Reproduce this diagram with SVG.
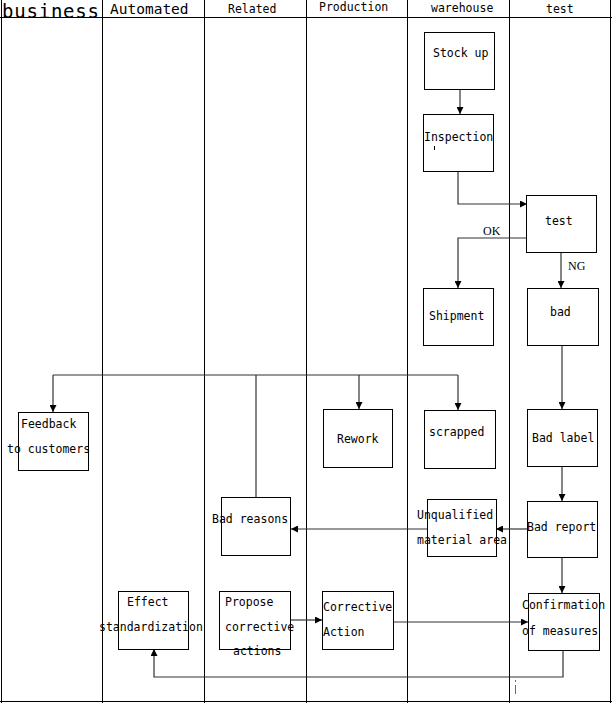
<svg xmlns="http://www.w3.org/2000/svg" width="612" height="703" viewBox="0 0 612 703">
<style>
.lane{stroke:#000;stroke-width:1;fill:none}
.box{fill:#fff;stroke:#000;stroke-width:1}
.t{font-family:"DejaVu Sans Mono","Liberation Mono",monospace;font-size:11.5px;fill:#000}
.h{font-family:"DejaVu Sans Mono","Liberation Mono",monospace;font-size:11.5px;fill:#000}
.lbl{font-family:"Liberation Serif","Times New Roman",serif;font-size:12px;fill:#000}
.c{stroke:#333;stroke-width:1.2;fill:none}
</style>
<defs>
<marker id="arr" viewBox="0 0 10 10" refX="10" refY="5" markerWidth="7" markerHeight="7" markerUnits="userSpaceOnUse" orient="auto">
<path d="M0,0 L10,5 L0,10 z" fill="#000"/>
</marker>
</defs>
<rect width="612" height="703" fill="#fff"/>
<g id="lanes">
<line class="lane" x1="1.5" y1="0" x2="1.5" y2="703"/>
<line class="lane" x1="102.5" y1="0" x2="102.5" y2="703"/>
<line class="lane" x1="204.5" y1="0" x2="204.5" y2="703"/>
<line class="lane" x1="306.5" y1="0" x2="306.5" y2="703"/>
<line class="lane" x1="407.5" y1="0" x2="407.5" y2="703"/>
<line class="lane" x1="509.5" y1="0" x2="509.5" y2="703"/>
<line class="lane" x1="610.5" y1="0" x2="610.5" y2="703"/>
<line class="lane" x1="0" y1="17.5" x2="612" y2="17.5"/>
<line class="lane" x1="0" y1="701.5" x2="612" y2="701.5"/>
<text x="2" y="17.5" font-family="'DejaVu Sans Mono','Liberation Mono',monospace" font-size="19px" textLength="97" lengthAdjust="spacing">business</text>
<text x="110" y="14" font-family="'DejaVu Sans Mono','Liberation Mono',monospace" font-size="14.5px">Automated</text>
<text class="h" x="228" y="13">Related</text>
<text class="h" x="319" y="11">Production</text>
<text class="h" x="431" y="12">warehouse</text>
<text class="h" x="546" y="13">test</text>
</g>
<g id="connectors">
<line class="c" x1="460" y1="89" x2="460" y2="114" marker-end="url(#arr)"/>
<polyline class="c" points="458,171 458,204 527,204" marker-end="url(#arr)"/>
<polyline class="c" points="526,238 458,238 458,288" marker-end="url(#arr)"/>
<text class="lbl" x="483" y="235">OK</text>
<line class="c" x1="561" y1="252" x2="561" y2="288" marker-end="url(#arr)"/>
<text class="lbl" x="568" y="270">NG</text>
<line class="c" x1="562" y1="345" x2="562" y2="409" marker-end="url(#arr)"/>
<line class="c" x1="562" y1="466" x2="562" y2="501" marker-end="url(#arr)"/>
<line class="c" x1="527" y1="529" x2="496" y2="529" marker-end="url(#arr)"/>
<line class="c" x1="427" y1="529" x2="291" y2="529" marker-end="url(#arr)"/>
<line class="c" x1="256" y1="497" x2="256" y2="375"/>
<line class="c" x1="53" y1="375" x2="458" y2="375"/>
<line class="c" x1="53" y1="375" x2="53" y2="412" marker-end="url(#arr)"/>
<line class="c" x1="359" y1="375" x2="359" y2="409" marker-end="url(#arr)"/>
<line class="c" x1="458" y1="375" x2="458" y2="410" marker-end="url(#arr)"/>
<line class="c" x1="562" y1="557" x2="562" y2="593" marker-end="url(#arr)"/>
<line class="c" x1="290" y1="620" x2="322" y2="620" marker-end="url(#arr)"/>
<line class="c" x1="393" y1="622" x2="528" y2="622" marker-end="url(#arr)"/>
<polyline class="c" points="563,650 563,677 154,677 154,649" marker-end="url(#arr)"/>
</g>
<g id="stock-up"><rect class="box" x="424.5" y="32.5" width="70" height="57"/><text class="t" x="433" y="57">Stock up</text></g>
<g id="inspection"><rect class="box" x="423.5" y="114.5" width="70" height="57"/><text class="t" x="424" y="141">Inspection</text><line x1="434.5" y1="146" x2="434.5" y2="150" stroke="#000" stroke-width="1"/></g>
<g id="test"><rect class="box" x="526.5" y="195.5" width="70" height="57"/><text class="t" x="545" y="225">test</text></g>
<g id="shipment"><rect class="box" x="423.5" y="288.5" width="70" height="57"/><text class="t" x="429" y="320">Shipment</text></g>
<g id="bad"><rect class="box" x="527.5" y="288.5" width="71" height="57"/><text class="t" x="550" y="316">bad</text></g>
<g id="feedback"><rect class="box" x="18.5" y="412.5" width="70" height="58"/><text class="t" x="21" y="428">Feedback</text><text class="t" x="7" y="453">to customers</text></g>
<g id="rework"><rect class="box" x="323.5" y="409.5" width="69" height="58"/><text class="t" x="337" y="443">Rework</text></g>
<g id="scrapped"><rect class="box" x="424.5" y="410.5" width="71" height="58"/><text class="t" x="429" y="436">scrapped</text></g>
<g id="bad-label"><rect class="box" x="527.5" y="409.5" width="70" height="57"/><text class="t" x="532" y="442">Bad label</text></g>
<g id="bad-reasons"><rect class="box" x="221.5" y="497.5" width="69" height="58"/><text class="t" x="212" y="523">Bad reasons</text></g>
<g id="unqualified"><rect class="box" x="427.5" y="499.5" width="69" height="57"/><text class="t" x="417" y="519">Unqualified</text><text class="t" x="417" y="544">material area</text></g>
<g id="bad-report"><rect class="box" x="527.5" y="501.5" width="70" height="56"/><text class="t" x="527" y="531">Bad report</text></g>
<g id="effect"><rect class="box" x="118.5" y="591.5" width="70" height="58"/><text class="t" x="127" y="606">Effect</text><text class="t" x="99" y="631">standardization</text></g>
<g id="propose"><rect class="box" x="219.5" y="591.5" width="71" height="58"/><text class="t" x="225" y="606">Propose</text><text class="t" x="225" y="631">corrective</text><text class="t" x="233" y="655">actions</text></g>
<g id="corrective"><rect class="box" x="322.5" y="591.5" width="71" height="58"/><text class="t" x="323" y="611">Corrective</text><text class="t" x="323" y="636">Action</text></g>
<g id="confirmation"><rect class="box" x="528.5" y="593.5" width="71" height="57"/><text class="t" x="522" y="609">Confirmation</text><text class="t" x="522" y="635">of measures</text></g>
<g id="cursor-mark" stroke="#3a73b0" stroke-width="1">
<line x1="515.5" y1="680" x2="515.5" y2="682"/>
<line x1="515.5" y1="685" x2="515.5" y2="694"/>
</g>
</svg>
